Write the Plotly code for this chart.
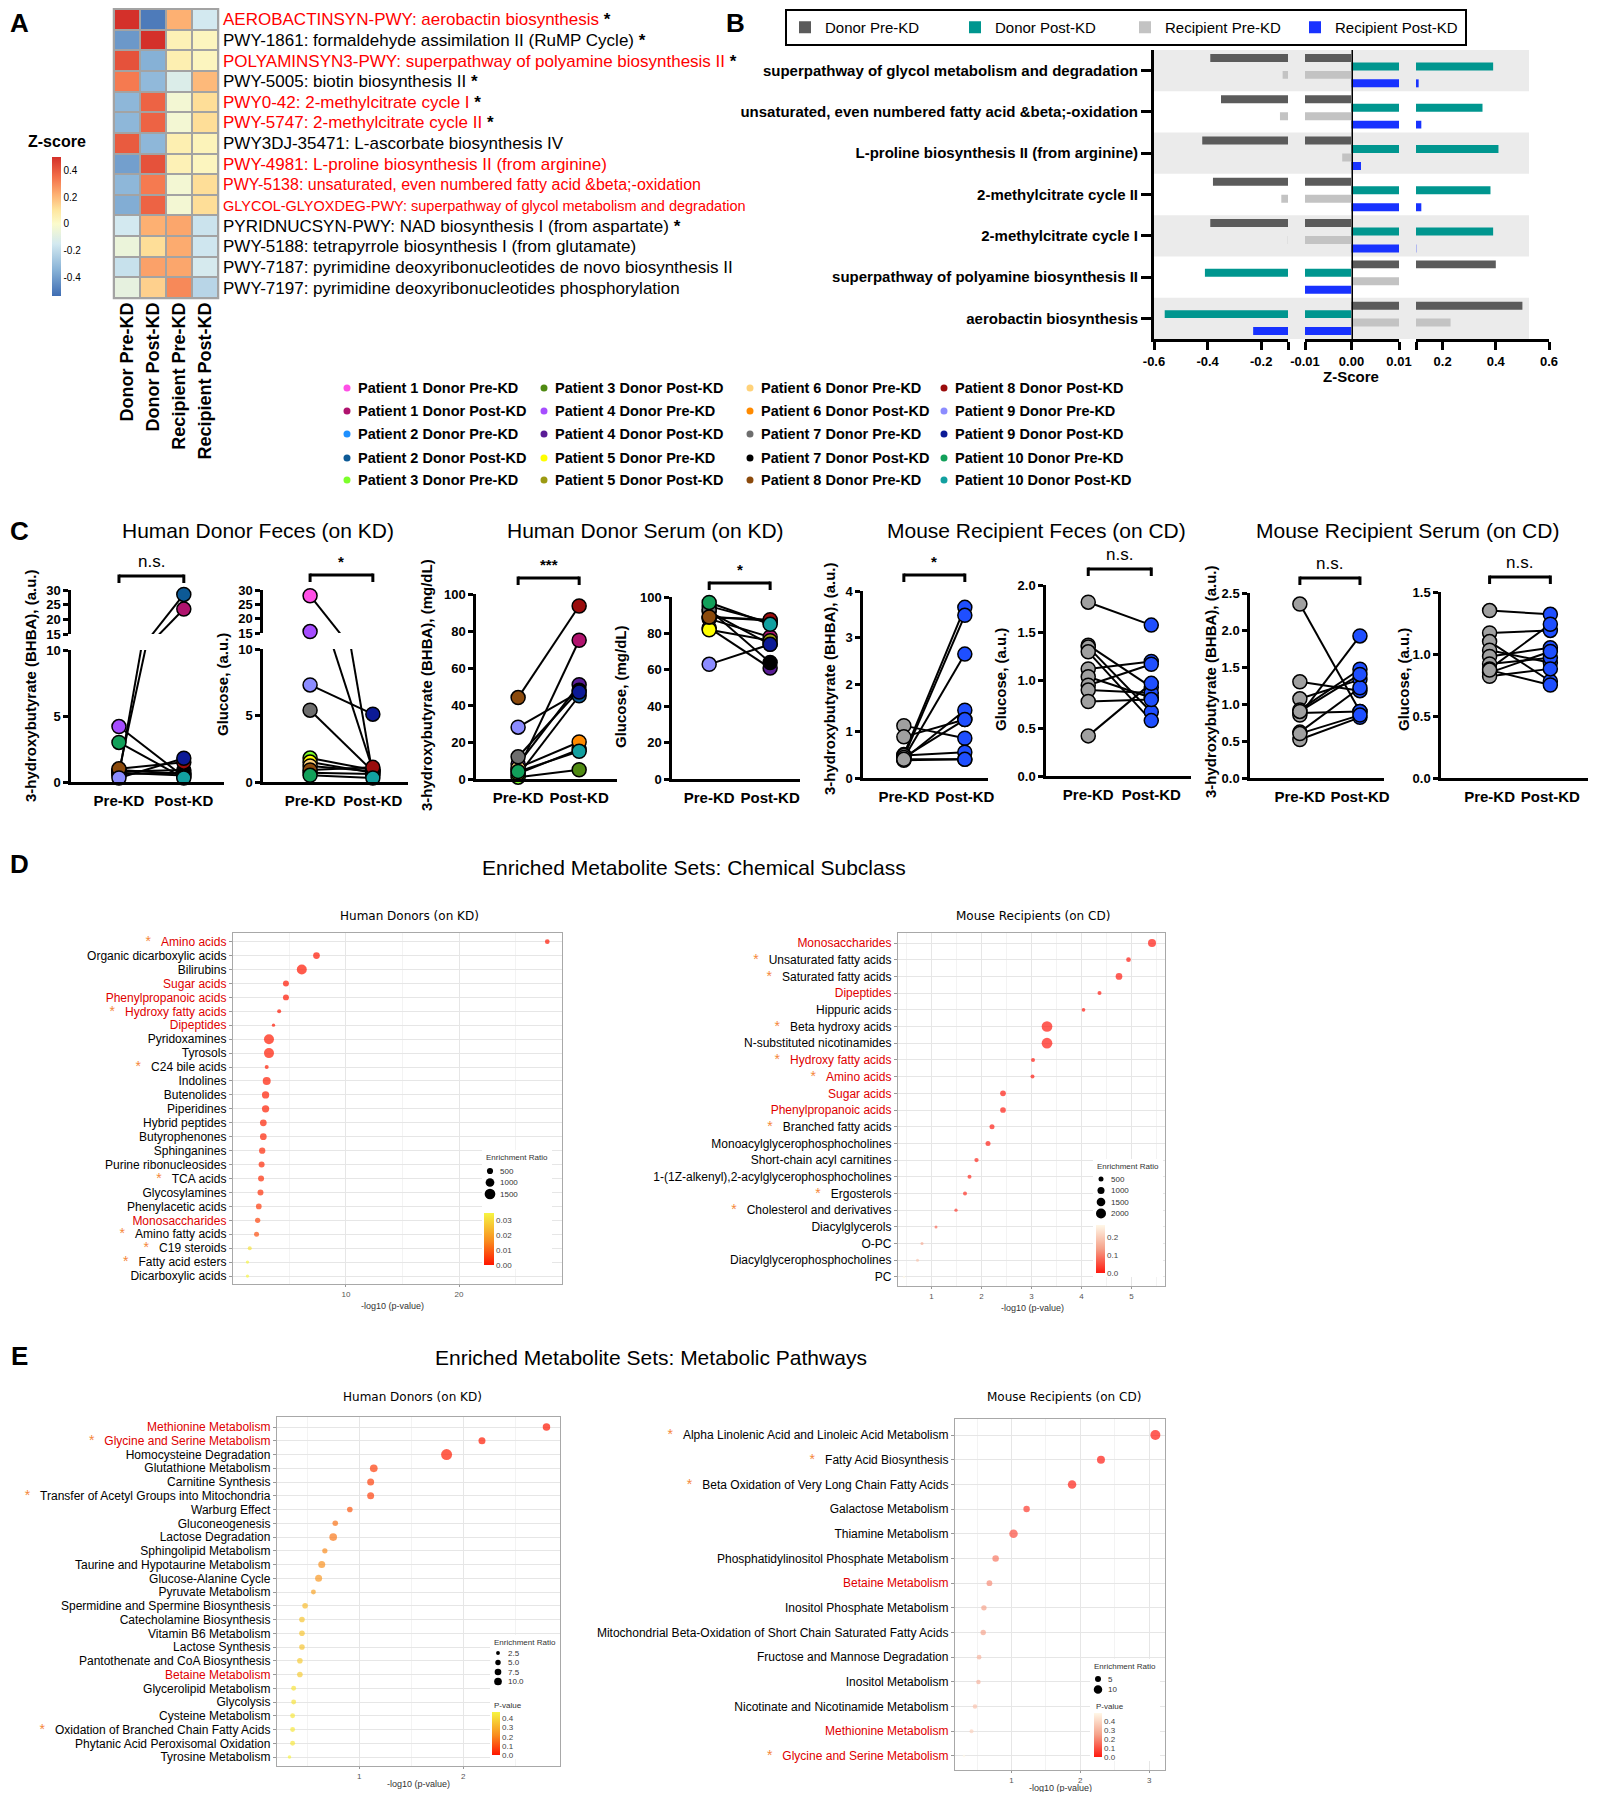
import plotly.graph_objects as go

# the html page keeps an 8px body margin, so the figure is drawn 8px in from the corner
PAGE_W, PAGE_H = 1597, 1800
OFF = 8
W, H = PAGE_W - 2 * OFF, PAGE_H - 2 * OFF
FONT = "Liberation Sans, Arial, Helvetica, sans-serif"


def px(x):
    return (x - OFF) / W


def py(y):
    return 1 - (y - OFF) / H


def clamp(v):
    return min(1.0, max(0.0, v))


def dx(a, b):
    return [clamp(px(a)), clamp(px(b))]


def dy(top, bottom):
    return [clamp(py(bottom)), clamp(py(top))]


# ---------------- A: pathway heatmap ----------------
heat_cols = ["Donor Pre-KD", "Donor Post-KD", "Recipient Pre-KD", "Recipient Post-KD"]
heat_rows = [
    "AEROBACTINSYN-PWY: aerobactin biosynthesis",
    "PWY-1861: formaldehyde assimilation II (RuMP Cycle)",
    "POLYAMINSYN3-PWY: superpathway of polyamine biosynthesis II",
    "PWY-5005: biotin biosynthesis II",
    "PWY0-42: 2-methylcitrate cycle I",
    "PWY-5747: 2-methylcitrate cycle II",
    "PWY3DJ-35471: L-ascorbate biosynthesis IV",
    "PWY-4981: L-proline biosynthesis II (from arginine)",
    "PWY-5138: unsaturated, even numbered fatty acid &amp;beta;-oxidation",
    "GLYCOL-GLYOXDEG-PWY: superpathway of glycol metabolism and degradation",
    "PYRIDNUCSYN-PWY: NAD biosynthesis I (from aspartate)",
    "PWY-5188: tetrapyrrole biosynthesis I (from glutamate)",
    "PWY-7187: pyrimidine deoxyribonucleotides de novo biosynthesis II",
    "PWY-7197: pyrimidine deoxyribonucleotides phosphorylation",
]
heat_red = [1, 0, 1, 0, 1, 1, 0, 1, 1, 1, 0, 0, 0, 0]
heat_star = [1, 1, 1, 1, 1, 1, 0, 0, 0, 0, 1, 0, 0, 0]
heat_z = [
    [0.50, -0.50, 0.22, -0.15],
    [-0.42, 0.50, 0.05, 0.03],
    [0.42, -0.35, 0.06, 0.03],
    [0.33, -0.32, -0.12, 0.20],
    [-0.33, 0.38, -0.03, 0.12],
    [-0.33, 0.38, -0.03, 0.12],
    [0.40, -0.33, 0.06, 0.04],
    [-0.40, 0.42, 0.05, 0.03],
    [-0.33, 0.33, -0.03, 0.12],
    [-0.36, 0.38, -0.03, 0.12],
    [-0.15, 0.22, 0.24, -0.17],
    [-0.06, 0.12, 0.23, -0.16],
    [-0.18, 0.25, 0.24, -0.14],
    [-0.08, 0.15, 0.30, -0.22],
]

# ---------------- B: broken-axis bars ----------------
path_b = [
    "superpathway of glycol metabolism and degradation",
    "unsaturated, even numbered fatty acid &amp;beta;-oxidation",
    "L-proline biosynthesis II (from arginine)",
    "2-methylcitrate cycle II",
    "2-methylcitrate cycle I",
    "superpathway of polyamine biosynthesis II",
    "aerobactin biosynthesis",
]
b_donor_pre = [-0.39, -0.35, -0.42, -0.38, -0.39, 0.40, 0.50]
b_donor_post = [0.39, 0.35, 0.41, 0.38, 0.39, -0.41, -0.56]
b_recip_pre = [-0.12, -0.13, -0.002, -0.125, -0.101, 0.05, 0.23]
b_recip_post = [0.11, 0.12, 0.002, 0.12, 0.101, -0.05, -0.23]

# ---------------- C: paired metabolite levels ----------------
time_cats = ["Pre-KD", "Post-KD"]
patient_ids = list(range(1, 11))
pre_colors = ["#ff4fe6", "#1e90ff", "#7cff2a", "#a64dff", "#ffff00",
              "#ffd27a", "#6e6e6e", "#8b4a0c", "#8c8cff", "#12a05a"]
post_colors = ["#b0136e", "#0d5a96", "#4f8a12", "#5a1c96", "#9c9a12",
               "#ff8a00", "#000000", "#9a0c0c", "#0c1a96", "#12a0a0"]
hf_bhba_pre = [0.8, 0.5, 0.6, 4.2, 0.7, 0.9, 0.8, 1.0, 0.3, 3.0]
hf_bhba_post = [23.5, 28.5, 0.7, 0.4, 0.5, 0.6, 0.9, 1.5, 1.8, 0.3]
hf_glu_pre = [28.0, 0.7, 1.8, 15.5, 1.5, 1.2, 5.4, 0.9, 7.3, 0.5]
hf_glu_post = [0.5, 0.6, 0.9, 0.9, 0.7, 0.8, 0.8, 1.1, 5.1, 0.3]
hs_bhba_pre = [5, 2, 1, 8, 3, 6, 12, 44, 28, 4]
hs_bhba_post = [75, 45, 5, 51, 16, 20, 48, 93.5, 47, 15]
hs_glu_pre = [88, 92, 95, 83, 82, 89, 93, 89, 63, 97]
hs_glu_post = [78, 74, 86, 61, 76, 87, 64, 87.5, 74, 85]
mf_bhba_pre = [1.12, 0.88, 0.50, 0.45, 0.42, 0.40, 0.38, 0.48, 0.44, 0.40]
mf_bhba_post = [0.85, 1.25, 3.65, 3.48, 2.65, 1.45, 0.40, 0.55, 1.25, 0.40]
mf_glu_pre = [1.82, 1.37, 1.35, 1.30, 1.12, 1.04, 0.95, 0.90, 0.78, 0.42]
mf_glu_post = [1.58, 0.93, 0.67, 0.58, 1.20, 0.82, 1.17, 0.87, 0.80, 0.97]
ms_bhba_pre = [2.35, 1.30, 1.07, 0.92, 0.88, 0.85, 0.62, 0.52, 0.90, 0.60]
ms_bhba_post = [0.90, 1.18, 1.33, 1.47, 0.90, 1.92, 1.22, 0.82, 1.40, 0.85]
ms_glu_pre = [1.35, 1.17, 1.10, 1.03, 0.98, 0.92, 0.88, 0.85, 0.82, 0.87]
ms_glu_post = [1.32, 1.19, 0.78, 0.93, 1.05, 0.97, 1.24, 1.02, 0.88, 0.75]

# ---------------- D: chemical subclass enrichment ----------------
dl_names = ["Amino acids", "Organic dicarboxylic acids", "Bilirubins", "Sugar acids",
            "Phenylpropanoic acids", "Hydroxy fatty acids", "Dipeptides", "Pyridoxamines",
            "Tyrosols", "C24 bile acids", "Indolines", "Butenolides", "Piperidines",
            "Hybrid peptides", "Butyrophenones", "Sphinganines", "Purine ribonucleosides",
            "TCA acids", "Glycosylamines", "Phenylacetic acids", "Monosaccharides",
            "Amino fatty acids", "C19 steroids", "Fatty acid esters", "Dicarboxylic acids"]
dl_logp = [27.8, 7.4, 6.1, 4.7, 4.7, 4.1, 3.6, 3.2, 3.2, 3.0, 3.0, 2.9, 2.9, 2.7, 2.7,
           2.6, 2.55, 2.5, 2.45, 2.3, 2.2, 2.1, 1.5, 1.3, 1.3]
dl_ratio = [290, 590, 1310, 470, 470, 210, 140, 1310, 1310, 210, 840, 700, 700, 590, 590,
            520, 470, 470, 470, 430, 370, 330, 210, 140, 140]
dl_red = ["Amino acids", "Sugar acids", "Phenylpropanoic acids", "Hydroxy fatty acids",
          "Dipeptides", "Monosaccharides"]
dl_star = ["Amino acids", "Hydroxy fatty acids", "C24 bile acids", "TCA acids",
           "Amino fatty acids", "C19 steroids", "Fatty acid esters"]

dr_names = ["Monosaccharides", "Unsaturated fatty acids", "Saturated fatty acids", "Dipeptides",
            "Hippuric acids", "Beta hydroxy acids", "N-substituted nicotinamides",
            "Hydroxy fatty acids", "Amino acids", "Sugar acids", "Phenylpropanoic acids",
            "Branched fatty acids", "Monoacylglycerophosphocholines",
            "Short-chain acyl carnitines", "1-(1Z-alkenyl),2-acylglycerophosphocholines",
            "Ergosterols", "Cholesterol and derivatives", "Diacylglycerols", "O-PC",
            "Diacylglycerophosphocholines", "PC"]
dr_logp = [5.41, 4.94, 4.75, 4.36, 4.04, 3.31, 3.31, 3.03, 3.02, 2.43, 2.43, 2.21, 2.13,
           1.90, 1.76, 1.67, 1.49, 1.09, 0.81, 0.72, 0.45]
dr_ratio = [1280, 440, 900, 320, 270, 2290, 2290, 320, 320, 650, 650, 500, 500, 370, 320,
            320, 220, 180, 180, 180, 125]
dr_red = ["Monosaccharides", "Dipeptides", "Hydroxy fatty acids", "Amino acids",
          "Sugar acids", "Phenylpropanoic acids"]
dr_star = ["Unsaturated fatty acids", "Saturated fatty acids", "Beta hydroxy acids",
           "Hydroxy fatty acids", "Amino acids", "Branched fatty acids", "Ergosterols",
           "Cholesterol and derivatives"]

# ---------------- E: metabolic pathway enrichment ----------------
el_names = ["Methionine Metabolism", "Glycine and Serine Metabolism", "Homocysteine Degradation",
            "Glutathione Metabolism", "Carnitine Synthesis",
            "Transfer of Acetyl Groups into Mitochondria", "Warburg Effect", "Gluconeogenesis",
            "Lactose Degradation", "Sphingolipid Metabolism",
            "Taurine and Hypotaurine Metabolism", "Glucose-Alanine Cycle", "Pyruvate Metabolism",
            "Spermidine and Spermine Biosynthesis", "Catecholamine Biosynthesis",
            "Vitamin B6 Metabolism", "Lactose Synthesis", "Pantothenate and CoA Biosynthesis",
            "Betaine Metabolism", "Glycerolipid Metabolism", "Glycolysis", "Cysteine Metabolism",
            "Oxidation of Branched Chain Fatty Acids", "Phytanic Acid Peroxisomal Oxidation",
            "Tyrosine Metabolism"]
el_logp = [2.80, 2.18, 1.84, 1.14, 1.11, 1.11, 0.91, 0.77, 0.75, 0.67, 0.64, 0.61, 0.56,
           0.48, 0.45, 0.45, 0.45, 0.43, 0.43, 0.37, 0.37, 0.36, 0.36, 0.36, 0.33]
el_ratio = [9.5, 8.3, 20.4, 10, 8.3, 8.3, 5.3, 5.3, 10, 4.7, 8.3, 8.3, 4.1, 5.3, 5.3, 5.3,
            5.3, 5.3, 5.3, 4.1, 4.1, 4.1, 4.1, 4.1, 2.1]
el_red = ["Methionine Metabolism", "Glycine and Serine Metabolism", "Betaine Metabolism"]
el_star = ["Glycine and Serine Metabolism", "Transfer of Acetyl Groups into Mitochondria",
           "Oxidation of Branched Chain Fatty Acids"]

er_names = ["Alpha Linolenic Acid and Linoleic Acid Metabolism", "Fatty Acid Biosynthesis",
            "Beta Oxidation of Very Long Chain Fatty Acids", "Galactose Metabolism",
            "Thiamine Metabolism", "Phosphatidylinositol Phosphate Metabolism",
            "Betaine Metabolism", "Inositol Phosphate Metabolism",
            "Mitochondrial Beta-Oxidation of Short Chain Saturated Fatty Acids",
            "Fructose and Mannose Degradation", "Inositol Metabolism",
            "Nicotinate and Nicotinamide Metabolism", "Methionine Metabolism",
            "Glycine and Serine Metabolism"]
er_logp = [3.09, 2.30, 1.88, 1.22, 1.03, 0.77, 0.68, 0.60, 0.59, 0.53, 0.52, 0.47, 0.42, 0.31]
er_ratio = [13.8, 8.8, 10, 5.8, 10, 5.8, 4.6, 4, 4, 3, 2.8, 2.8, 2.2, 0.9]
er_red = ["Betaine Metabolism", "Methionine Metabolism", "Glycine and Serine Metabolism"]
er_star = ["Alpha Linolenic Acid and Linoleic Acid Metabolism", "Fatty Acid Biosynthesis",
           "Beta Oxidation of Very Long Chain Fatty Acids", "Glycine and Serine Metabolism"]

fig = go.Figure()
axes = {}
shapes = []
annotations = []


def note(text, x, y, size=14, bold=False, color="black", xanchor="center",
         yanchor="middle", angle=0, family=FONT):
    annotations.append(dict(
        text=text, x=px(x), y=py(y), xref="paper", yref="paper", showarrow=False,
        xanchor=xanchor, yanchor=yanchor, textangle=angle,
        font=dict(family=family, size=size, color=color, weight="bold" if bold else "normal")))


def dot(xc, yc, r, color):
    shapes.append(dict(type="circle", xref="paper", yref="paper", xsizemode="pixel",
                       ysizemode="pixel", xanchor=px(xc), yanchor=py(yc),
                       x0=-r, x1=r, y0=-r, y1=r, fillcolor=color, line=dict(width=0),
                       layer="above"))


# ---- panel letters ----
for letter, x, y in [("A", 19, 23), ("B", 735, 23), ("C", 19, 531), ("D", 19, 864), ("E", 19, 1356)]:
    note(letter, x, y, size=26, bold=True)

# ================= A =================
heat_scale = [[0.0, "#3f6db3"], [0.183, "#86b1d6"], [0.375, "#d3e9f0"], [0.519, "#fbfbcc"],
              [0.615, "#fee7a0"], [0.731, "#fdb072"], [0.856, "#f3704a"], [1.0, "#d4302a"]]
fig.add_trace(go.Heatmap(
    z=heat_z, x=heat_cols, y=heat_rows, xaxis="x", yaxis="y", xgap=2, ygap=2,
    colorscale=heat_scale, zmin=-0.54, zmax=0.5, hoverinfo="skip",
    colorbar=dict(x=px(52), xanchor="left", xpad=0, y=py(296), yanchor="bottom", ypad=0,
                  len=139, lenmode="pixels", thickness=9, outlinewidth=0, ticks="",
                  tickvals=[0.4, 0.2, 0, -0.2, -0.4], ticktext=["0.4", "0.2", "0", "-0.2", "-0.4"],
                  tickfont=dict(size=10, family=FONT))))
heat_tick = []
for name, red, star in zip(heat_rows, heat_red, heat_star):
    size = 17
    if red and name.startswith("GLYCOL"):
        size = 14.5
    elif red and len(name) > 60:
        size = 16
    col = "#ff0000" if red else "#000000"
    t = f'<span style="color:{col};font-size:{size}px">{name}</span>'
    if star:
        t += ' <b>*</b>'
    heat_tick.append(t)
axes["xaxis"] = dict(domain=dx(114, 218), anchor="y", type="category", tickangle=-90,
                     tickfont=dict(size=18, family=FONT, weight="bold"), ticks="",
                     showgrid=False, zeroline=False, showline=False)
axes["yaxis"] = dict(domain=dy(9, 298), anchor="x", side="right", autorange="reversed",
                     tickvals=heat_rows, ticktext=heat_tick, ticks="", showgrid=False,
                     zeroline=False, tickfont=dict(size=17, family=FONT), ticklabelstandoff=4)
shapes.append(dict(type="rect", xref="x domain", yref="y domain", x0=-0.012, x1=1.012,
                   y0=-0.004, y1=1.004, fillcolor="#a3a3a3", line=dict(width=0), layer="below"))
note("Z-score", 57, 142, size=16, bold=True)

# ================= B =================
b_series = [("Donor Pre-KD", b_donor_pre, "#5b5b5b"), ("Donor Post-KD", b_donor_post, "#00968f"),
            ("Recipient Pre-KD", b_recip_pre, "#c3c3c3"), ("Recipient Post-KD", b_recip_post, "#1832ff")]
b_seg = [
    (2, [1154, 1288], [-0.6, -0.1], [-0.6, -0.4, -0.2, -0.1], ["-0.6", "-0.4", "-0.2", ""]),
    (3, [1305, 1351.5], [-0.01, 0], [-0.01], ["-0.01"]),
    (4, [1351.5, 1399], [0, 0.01], [0, 0.01], ["0.00", "0.01"]),
    (5, [1416, 1549], [0.1, 0.6], [0.1, 0.2, 0.4, 0.6], ["", "0.2", "0.4", "0.6"]),
]
for k, (n, xd, xr, tv, tt) in enumerate(b_seg):
    for name, vals, col in b_series:
        fig.add_trace(go.Bar(y=path_b, x=vals, orientation="h", name=name,
                             marker=dict(color=col, line=dict(width=0)),
                             xaxis=f"x{n}", yaxis=f"y{n}", showlegend=(k == 0),
                             legendgroup=name, hoverinfo="skip"))
    axes[f"xaxis{n}"] = dict(domain=dx(*xd), anchor=f"y{n}", range=xr, tickvals=tv, ticktext=tt,
                             showline=True, linecolor="black", linewidth=3, ticks="outside",
                             ticklen=8, tickwidth=2.5, tickcolor="black", showgrid=False,
                             zeroline=False, tickfont=dict(size=13, family=FONT, weight="bold"))
    ycfg = dict(domain=dy(50, 339), anchor=f"x{n}", type="category", categoryorder="array",
                categoryarray=path_b, range=[6.5, -0.5], showgrid=False, zeroline=False)
    if k == 0:
        ycfg.update(showline=True, linecolor="black", linewidth=3, ticks="outside", ticklen=10,
                    tickwidth=3, tickcolor="black",
                    tickfont=dict(size=15, family=FONT, weight="bold"))
    else:
        ycfg.update(showticklabels=False, showline=False, ticks="")
    axes[f"yaxis{n}"] = ycfg
for i in range(0, 7, 2):
    shapes.append(dict(type="rect", xref="paper", yref="y2", x0=px(1154), x1=px(1529),
                       y0=i - 0.5, y1=i + 0.5, fillcolor="#ebebeb", line=dict(width=0),
                       layer="below"))
shapes.append(dict(type="line", xref="x4", yref="y4 domain", x0=0, x1=0, y0=0, y1=1,
                   line=dict(color="black", width=3)))
note("Z-Score", 1351, 377, size=15, bold=True)

# patient colour key
patient_key = []
for i, cp, cq in zip(patient_ids, pre_colors, post_colors):
    patient_key.append((f"Patient {i} Donor Pre-KD", cp))
    patient_key.append((f"Patient {i} Donor Post-KD", cq))
key_dot_x = [347, 544, 750, 944]
key_row_y = [388, 411, 434, 458, 480]
for k, (label, col) in enumerate(patient_key):
    c, r = divmod(k, 5)
    dot(key_dot_x[c], key_row_y[r], 3.5, col)
    note(label, key_dot_x[c] + 9, key_row_y[r], size=14.5, bold=True, xanchor="left")

# ================= C =================
c_titles = [("Human Donor Feces (on KD)", 258), ("Human Donor Serum (on KD)", 645),
            ("Mouse Recipient Feces (on CD)", 1036), ("Mouse Recipient Serum (on CD)", 1407)]
for t, x in c_titles:
    note(t, x, 531, size=21)

MOUSE_PRE, MOUSE_POST = "#a0a0a0", "#1f4fff"


def paired(xa, ya, pre, post, pcol, qcol):
    lx, ly = [], []
    for a, b in zip(pre, post):
        lx += [time_cats[0], time_cats[1], None]
        ly += [a, b, None]
    fig.add_trace(go.Scatter(x=lx, y=ly, mode="lines", line=dict(color="black", width=2),
                             xaxis=xa, yaxis=ya, showlegend=False, hoverinfo="skip"))
    fig.add_trace(go.Scatter(
        x=[time_cats[0]] * len(pre) + [time_cats[1]] * len(post), y=list(pre) + list(post),
        mode="markers", cliponaxis=False, xaxis=xa, yaxis=ya, showlegend=False,
        marker=dict(size=14, color=list(pcol) + list(qcol), line=dict(color="black", width=1.5))))


def c_xaxis(n, xd, xr):
    axes[f"xaxis{n}"] = dict(domain=dx(*xd), anchor=f"y{n}", type="category",
                             categoryorder="array", categoryarray=time_cats, range=xr,
                             showline=True, linecolor="black", linewidth=2.5, ticks="",
                             tickangle=0, ticklabelstandoff=3, showgrid=False, zeroline=False,
                             tickfont=dict(size=15, family=FONT, weight="bold"))


def c_yaxis(key, xname, yd, yr, tv, tt=None):
    cfg = dict(domain=dy(*yd), anchor=xname, range=yr, tickvals=tv, showline=True,
               linecolor="black", linewidth=2.5, ticks="outside", ticklen=5, tickwidth=2.5,
               tickcolor="black", showgrid=False, zeroline=False,
               tickfont=dict(size=13, family=FONT, weight="bold"))
    if tt is not None:
        cfg["ticktext"] = tt
    axes[key] = cfg


hp, hq = pre_colors, post_colors
mp, mq = [MOUSE_PRE] * 10, [MOUSE_POST] * 10

# human feces BHBA (broken axis)
c_xaxis(6, [71, 224], [-0.74, 1.62])
c_yaxis("yaxis6", "x6", [650, 782], [0, 10], [0, 5, 10])
c_yaxis("yaxis7", "x6", [590, 634], [15, 30], [15, 20, 25, 30])
paired("x6", "y6", hf_bhba_pre, hf_bhba_post, hp, hq)
paired("x6", "y7", hf_bhba_pre, hf_bhba_post, hp, hq)
# human feces glucose (broken axis)
c_xaxis(8, [263, 408], [-0.75, 1.56])
c_yaxis("yaxis8", "x8", [649, 782], [0, 10], [0, 5, 10])
c_yaxis("yaxis9", "x8", [590, 633], [15, 30], [15, 20, 25, 30])
paired("x8", "y8", hf_glu_pre, hf_glu_post, hp, hq)
paired("x8", "y9", hf_glu_pre, hf_glu_post, hp, hq)
# human serum
c_xaxis(10, [476, 617], [-0.69, 1.62])
c_yaxis("yaxis10", "x10", [594, 779], [0, 100], [0, 20, 40, 60, 80, 100])
paired("x10", "y10", hs_bhba_pre, hs_bhba_post, hp, hq)
c_xaxis(11, [672, 800], [-0.61, 1.49])
c_yaxis("yaxis11", "x11", [597, 779], [0, 100], [0, 20, 40, 60, 80, 100])
paired("x11", "y11", hs_glu_pre, hs_glu_post, hp, hq)
# mouse feces
c_xaxis(12, [863, 988], [-0.67, 1.38])
c_yaxis("yaxis12", "x12", [591, 778], [0, 4], [0, 1, 2, 3, 4])
paired("x12", "y12", mf_bhba_pre, mf_bhba_post, mp, mq)
c_xaxis(13, [1046, 1191], [-0.67, 1.63])
c_yaxis("yaxis13", "x13", [585, 776], [0, 2], [0, 0.5, 1, 1.5, 2], ["0.0", "0.5", "1.0", "1.5", "2.0"])
paired("x13", "y13", mf_glu_pre, mf_glu_post, mp, mq)
# mouse serum
c_xaxis(14, [1250, 1384], [-0.83, 1.4])
c_yaxis("yaxis14", "x14", [593, 778], [0, 2.5], [0, 0.5, 1, 1.5, 2, 2.5],
        ["0.0", "0.5", "1.0", "1.5", "2.0", "2.5"])
paired("x14", "y14", ms_bhba_pre, ms_bhba_post, mp, mq)
c_xaxis(15, [1441, 1588], [-0.8, 1.62])
c_yaxis("yaxis15", "x15", [592, 778], [0, 1.5], [0, 0.5, 1, 1.5], ["0.0", "0.5", "1.0", "1.5"])
paired("x15", "y15", ms_glu_pre, ms_glu_post, mp, mq)

c_ytitles = [(31, 686, "3-hydroxybutyrate (BHBA), (a.u.)"), (222, 684, "Glucose, (a.u.)"),
             (426, 685, "3-hydroxybutyrate (BHBA), (mg/dL)"), (620, 687, "Glucose, (mg/dL)"),
             (829, 679, "3-hydroxybutyrate (BHBA), (a.u.)"), (1000, 680, "Glucose, (a.u.)"),
             (1210, 682, "3-hydroxybutyrate (BHBA), (a.u.)"), (1403, 680, "Glucose, (a.u.)")]
for x, y, t in c_ytitles:
    note(t, x, y, size=15, bold=True, angle=-90)

c_sig = [("x6", 576, "n.s.", False), ("x8", 575, "*", True),
         ("x10", 578, "***", True), ("x11", 583, "*", True),
         ("x12", 575, "*", True), ("x13", 569, "n.s.", False),
         ("x14", 578, "n.s.", False), ("x15", 577, "n.s.", False)]
for xa, ytop, txt, bold in c_sig:
    shapes.append(dict(type="line", xref=xa, yref="paper", x0=0, x1=1, y0=py(ytop), y1=py(ytop),
                       line=dict(color="black", width=3)))
    for xv in (0, 1):
        shapes.append(dict(type="line", xref=xa, yref="paper", x0=xv, x1=xv, y0=py(ytop - 1.5),
                           y1=py(ytop + 7), line=dict(color="black", width=3)))
    annotations.append(dict(text=txt, xref=xa, x=0.5, yref="paper", y=py(ytop - 3),
                            yanchor="bottom", showarrow=False,
                            font=dict(size=17 if not bold else 15, family=FONT, color="black",
                                      weight="bold" if bold else "normal")))

# ================= D / E bubble plots =================
note("Enriched Metabolite Sets: Chemical Subclass", 694, 867, size=21)
note("Enriched Metabolite Sets: Metabolic Pathways", 651, 1357, size=21)

RED_TXT = "#e00000"
STAR = '<span style="color:#f5873a;font-size:14px">*</span>\u00a0\u00a0\u00a0'
scale_hot = [[0.0, "#ff1500"], [0.45, "#f98a1e"], [1.0, "#f6f542"]]
scale_pale = [[0.0, "#ff1a10"], [0.5, "#f5a088"], [1.0, "#fff8e8"]]


def label(name, red_list, star_list):
    s = f'<span style="color:{RED_TXT}">{name}</span>' if name in red_list else name
    if name in star_list:
        s = STAR + s
    return s


def bubble(n, xd, yd, xr, pad, names, logp, ratio, red, star, sizeref, cmax, cscale,
           cbar, cticks, size_keys, key_pos, pv_title, subtitle, xtitle):
    nrow = len(names)
    fig.add_trace(go.Scatter(
        x=logp, y=names, mode="markers", xaxis=f"x{n}", yaxis=f"y{n}", showlegend=False,
        cliponaxis=False, hoverinfo="skip",
        marker=dict(size=ratio, sizemode="area", sizeref=sizeref, sizemin=1,
                    color=[10 ** (-v) for v in logp], colorscale=cscale, cmin=0, cmax=cmax,
                    line=dict(width=0),
                    colorbar=dict(x=px(cbar[0]), xanchor="left", xpad=0, y=py(cbar[3]),
                                  yanchor="bottom", ypad=0, len=cbar[3] - cbar[2],
                                  lenmode="pixels", thickness=cbar[1] - cbar[0], outlinewidth=0,
                                  ticks="", tickvals=cticks[0], ticktext=cticks[1],
                                  tickfont=dict(size=8, color="#444", family=FONT)))))
    axes[f"xaxis{n}"] = dict(domain=dx(*xd), anchor=f"y{n}", range=xr[:2], tick0=xr[2],
                             dtick=xr[3], showgrid=True, gridcolor="#e6e6e6", gridwidth=1,
                             minor=dict(dtick=xr[3] / 2, showgrid=True, gridcolor="#f3f3f3",
                                        gridwidth=0.8),
                             showline=True, mirror=True, linecolor="#a8a8a8", linewidth=1.3,
                             ticks="outside", ticklen=2, tickcolor="#999", zeroline=False,
                             tickfont=dict(size=8, color="#555", family=FONT))
    axes[f"yaxis{n}"] = dict(domain=dy(*yd), anchor=f"x{n}", type="category",
                             categoryorder="array", categoryarray=names,
                             range=[nrow - 1 + pad[1], -pad[0]], tickvals=names,
                             ticktext=[label(s, red, star) for s in names], showgrid=True,
                             gridcolor="#e6e6e6", gridwidth=1, showline=True, mirror=True,
                             linecolor="#a8a8a8", linewidth=1.3, ticks="outside", ticklen=3,
                             tickcolor="#999", zeroline=False,
                             tickfont=dict(size=12, color="black", family=FONT))
    # legend box inside the panel
    kx, ky0, kstep, ktitle_y = key_pos
    shapes.append(dict(type="rect", xref="paper", yref="paper", x0=px(kx - 8), x1=px(kx + 62),
                       y0=py(cbar[3] + 4), y1=py(ktitle_y - 7), fillcolor="white",
                       line=dict(width=0), layer="above"))
    note("Enrichment Ratio", kx - 6, ktitle_y, size=8, color="#333", xanchor="left")
    for j, v in enumerate(size_keys):
        d = (2 * v / sizeref) ** 0.5
        dot(kx, ky0 + j * kstep, d / 2, "black")
        note(f"{v}", kx + 8, ky0 + j * kstep, size=8, color="#333", xanchor="left")
    if pv_title:
        note("P-value", cbar[0], cbar[2] - 7, size=8, color="#333", xanchor="left")
    note(subtitle[0], subtitle[1], subtitle[2], size=12, family="DejaVu Sans")
    note("-log10 (p-value)", xtitle[0], xtitle[1], size=9, color="#333")


bubble(16, [233, 562], [933, 1284], [0.02, 29.1, 0, 10], [0.62, 0.57],
       dl_names, dl_logp, dl_ratio, dl_red, dl_star, 26.2, 0.035, scale_hot,
       [484, 494, 1213, 1265], [[0, 0.01, 0.02, 0.03], ["0.00", "0.01", "0.02", "0.03"]],
       [500, 1000, 1500], (490, 1171, 11.5, 1157), False,
       ("Human Donors (on KD)", 409, 916), (392, 1306))
bubble(17, [898, 1165], [933, 1286], [0.33, 5.67, 0, 1], [0.6, 0.54],
       dr_names, dr_logp, dr_ratio, dr_red, dr_star, 40.0, 0.27, scale_pale,
       [1096, 1105, 1225, 1273], [[0, 0.1, 0.2], ["0.0", "0.1", "0.2"]],
       [500, 1000, 1500, 2000], (1101, 1179, 11.5, 1166), False,
       ("Mouse Recipients (on CD)", 1033, 916), (1032, 1308))
bubble(18, [277, 560], [1417, 1766], [0.21, 2.93, 0, 1], [0.73, 0.65],
       el_names, el_logp, el_ratio, el_red, el_star, 0.338, 0.47, scale_hot,
       [492, 500, 1712, 1755], [[0, 0.1, 0.2, 0.3, 0.4], ["0.0", "0.1", "0.2", "0.3", "0.4"]],
       [2.5, 5.0, 7.5, 10.0], (498, 1653, 9.5, 1642), True,
       ("Human Donors (on KD)", 412, 1397), (418, 1784))
bubble(19, [955, 1165], [1419, 1770], [0.18, 3.23, 0, 1], [0.65, 0.57],
       er_names, er_logp, er_ratio, er_red, er_star, 0.276, 0.49, scale_pale,
       [1094, 1102, 1713, 1757], [[0, 0.1, 0.2, 0.3, 0.4], ["0.0", "0.1", "0.2", "0.3", "0.4"]],
       [5, 10], (1098, 1679, 10.5, 1666), True,
       ("Mouse Recipients (on CD)", 1064, 1397), (1060, 1788))

fig.update_layout(
    template="none",
    width=W, height=H,
    margin=dict(l=0, r=0, t=0, b=0),
    paper_bgcolor="white", plot_bgcolor="white",
    font=dict(family=FONT, color="black"),
    barmode="group", bargap=0.18, bargroupgap=0.06,
    showlegend=True,
    legend=dict(orientation="h", x=px(785), y=py(9), xanchor="left", yanchor="top",
                bordercolor="black", borderwidth=2, bgcolor="white",
                font=dict(size=15, family=FONT), entrywidth=125, entrywidthmode="pixels",
                itemclick=False, itemdoubleclick=False),
    shapes=shapes,
    annotations=annotations,
    **axes,
)

fig.write_html("out.html")
